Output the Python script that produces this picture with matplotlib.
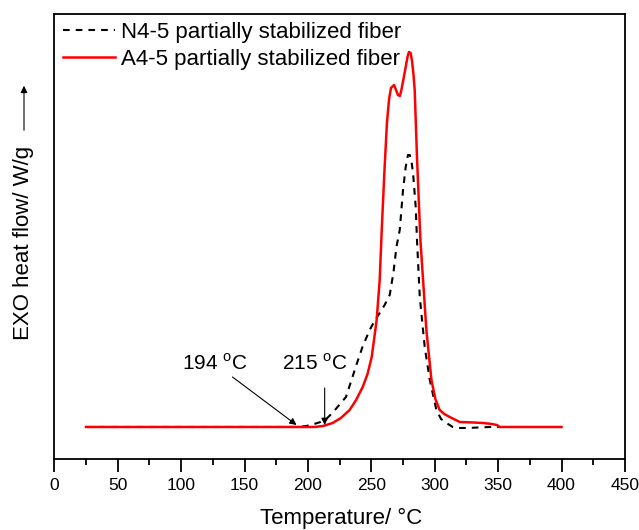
import numpy as np
import matplotlib
matplotlib.use('Agg')
from matplotlib import pyplot as plt

plt.rcParams['font.family'] = ['Liberation Sans', 'DejaVu Sans']
plt.rcParams['mathtext.fontset'] = 'custom'
plt.rcParams['mathtext.rm'] = 'Liberation Sans'

# DSC curves (temperature in C, heat flow in arbitrary units)
red_T = [25, 100, 180, 205, 212, 219.5, 226, 232.9, 238, 243.2, 247, 250.3, 254.2, 256.6,
         258.2, 260.3, 262.3, 264.0, 265.5, 267.9, 269.5, 271.0, 272.5, 273.7, 275.5, 277.1,
         278.5, 279.7, 281.0, 282.1, 283.2, 284.2, 286.0, 288.7, 290.8, 293.4, 297.4, 300.5,
         303.9, 307.5, 311.8, 319.7, 330, 337.9, 345, 349, 351.3, 360, 400]
red_y = [0, 0, 0, 0, 0.01, 0.04, 0.09, 0.17, 0.27, 0.40, 0.53, 0.70, 1.07, 1.47,
         1.97, 2.55, 3.04, 3.28, 3.39, 3.42, 3.37, 3.32, 3.31, 3.37, 3.49, 3.60,
         3.70, 3.75, 3.74, 3.66, 3.53, 3.37, 2.70, 1.87, 1.47, 0.97, 0.47, 0.28,
         0.17, 0.13, 0.10, 0.05, 0.045, 0.04, 0.03, 0.02, 0.0, 0.0, 0.0]

blk_T = [25, 100, 180, 191.8, 198.7, 205, 210, 214.5, 220, 230, 238.2, 243, 248.7,
         252.5, 256.6, 260.5, 264.5, 267.5, 269.8, 272.4, 275.0, 277.1, 278.9, 280.3,
         281.6, 282.9, 285.0, 286.0, 288.2, 292.1, 296.1, 301.3, 305, 309.2, 314.2, 320,
         325.3, 335, 343.4, 351.3]
blk_y = [0, 0, 0, 0, 0.01, 0.03, 0.05, 0.08, 0.15, 0.30, 0.62, 0.80, 0.97,
         1.06, 1.14, 1.22, 1.32, 1.55, 1.80, 1.97, 2.37, 2.60, 2.72, 2.72,
         2.66, 2.54, 2.20, 1.87, 1.30, 0.80, 0.47, 0.17, 0.08, 0.04, 0.0, -0.01,
         -0.01, -0.005, 0.0, 0.0]

labels = ['N4-5 partially stabilized fiber', 'A4-5 partially stabilized fiber']

fig = plt.figure(figsize=(6.39, 5.30), dpi=100)
ax = fig.add_axes([0.085, 0.134, 0.893, 0.8396])

ax.plot(blk_T, blk_y, color='black', lw=1.5, linestyle=(0, (3.2, 2.9)), label=labels[0])
ax.plot(red_T, red_y, color='red', lw=1.8, label=labels[1])

ax.set_xlim(0, 450)
ax.set_ylim(-0.32, 4.13)
ax.set_xticks(np.arange(0, 451, 50))
ax.set_xticks(np.arange(25, 451, 50), minor=True)
ax.set_yticks([])
ax.tick_params(axis='x', which='major', direction='out', length=9, width=1.3, labelsize=12.5, pad=5)
ax.tick_params(axis='x', which='minor', direction='out', length=4.5, width=1.3)
for s in ax.spines.values():
    s.set_linewidth(1.3)

fig.text(341 / 639, 1 - 524 / 530, 'Temperature/ \u00b0C', ha='center', va='baseline', fontsize=16)
fig.text(24 / 639, 1 - 243 / 530, 'EXO heat flow/ W/g', rotation=90,
         ha='center', va='center', fontsize=16)
ax.annotate('', xy=(24 / 639, 1 - 83 / 530), xytext=(24 / 639, 1 - 133 / 530),
            xycoords='figure fraction', textcoords='figure fraction',
            arrowprops=dict(arrowstyle='-|>', color='k', lw=0.8, mutation_scale=10))

ax.text(126.5, 0.53, '194 $^{\\mathrm{o}}$C', ha='center', va='bottom', fontsize=15)
ax.annotate('', xy=(191, 0.02), xytext=(140.5, 0.50),
            arrowprops=dict(arrowstyle='-|>', color='k', lw=0.8, mutation_scale=10,
                            shrinkA=0, shrinkB=0))
ax.text(205.3, 0.53, '215 $^{\\mathrm{o}}$C', ha='center', va='bottom', fontsize=15)
ax.annotate('', xy=(213.2, 0.02), xytext=(213.2, 0.39),
            arrowprops=dict(arrowstyle='-|>', color='k', lw=0.8, mutation_scale=10,
                            shrinkA=0, shrinkB=0))

ax.legend(loc='upper left', bbox_to_anchor=(63 / 639, 1 - 22 / 530),
          bbox_transform=fig.transFigure, frameon=False, fontsize=16,
          handlelength=2.35, handletextpad=0.25, labelspacing=0.27,
          borderpad=0, borderaxespad=0)

plt.savefig('out.png', dpi=100)
